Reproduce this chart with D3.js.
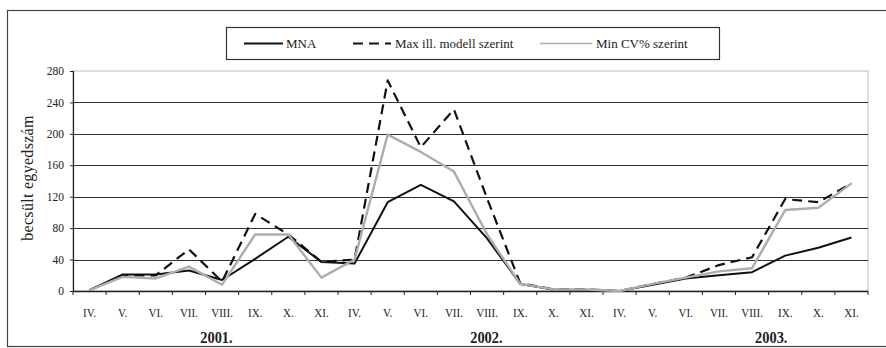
<!DOCTYPE html>
<html>
<head>
<meta charset="utf-8">
<script src="https://cdn.jsdelivr.net/npm/d3@7"></script>
<style>
  html, body { margin: 0; padding: 0; background: #fff; }
  svg { display: block; }
  svg text { font-family: "Liberation Serif", "Times New Roman", serif; fill: #222; }
</style>
</head>
<body>
<svg id="chart" width="886" height="348" font-family="Liberation Serif, serif"></svg>
<script>
// ---- data ----
const months = ["IV.", "V.", "VI.", "VII.", "VIII.", "IX.", "X.", "XI."];
const years = ["2001.", "2002.", "2003."];
const categories = years.flatMap(y => months.map(m => m));
// year label positions, in category units from the start of the axis
const yearPos = [4.33, 12.48, 21.08];

const seriesNames = ["MNA", "Max ill. modell szerint", "Min CV% szerint"];
const mna   = [1, 21, 21, 26, 14, 41, 69, 37, 35, 113, 135, 114, 67, 9, 2, 1, 0, 8, 16, 20, 24, 45, 55, 68];
const maxIll = [1, 20, 20, 53, 12, 98, 72, 37, 40, 268, 183, 231, 118, 10, 2, 2, 0, 9, 17, 33, 43, 117, 113, 137];
const minCV = [1, 18, 16, 31, 8, 72, 72, 17, 40, 199, 177, 152, 72, 9, 2, 2, 0, 9, 17, 25, 29, 103, 106, 137];
const yTicks = [0, 40, 80, 120, 160, 200, 240, 280];
const yTitle = "becsült egyedszám";

// ---- layout ----
const svg = d3.select("#chart");
const plot = { left: 73, right: 868, top: 71, bottom: 291 };

const x = d3.scaleBand().domain(d3.range(categories.length)).range([plot.left, plot.right]).padding(0);
const y = d3.scaleLinear().domain([0, 280]).range([plot.bottom, plot.top]);
const cx = i => x(i) + x.bandwidth() / 2;

// outer frame
svg.append("rect").attr("x", 7.5).attr("y", 10.5).attr("width", 890).attr("height", 336)
  .attr("fill", "none").attr("stroke", "#444").attr("stroke-width", 1.2);

// plot border (light)
svg.append("rect").attr("x", plot.left).attr("y", plot.top)
  .attr("width", plot.right - plot.left).attr("height", plot.bottom - plot.top)
  .attr("fill", "none").attr("stroke", "#bbb").attr("stroke-width", 1);

// gridlines
svg.append("g").selectAll("line").data(yTicks.filter(t => t > 0 && t < 280)).join("line")
  .attr("x1", plot.left).attr("x2", plot.right)
  .attr("y1", d => Math.round(y(d)) + 0.5).attr("y2", d => Math.round(y(d)) + 0.5)
  .attr("stroke", "#333").attr("stroke-width", 1.2);

// y axis
const yAxis = d3.axisLeft(y).tickValues(yTicks).tickSize(3).tickPadding(6);
const gy = svg.append("g").attr("transform", `translate(${plot.left},0)`).call(yAxis)
  .attr("font-family", "Liberation Serif, serif");
gy.select(".domain").attr("stroke", "#222").attr("stroke-width", 1.2);
gy.selectAll(".tick line").attr("stroke", "#222");
gy.selectAll(".tick text").attr("font-size", 11.5).attr("fill", "#222");

// x axis: ticks at category boundaries
const gx = svg.append("g").attr("transform", `translate(0,${plot.bottom})`);
gx.append("line").attr("x1", plot.left).attr("x2", plot.right).attr("y1", 0.5).attr("y2", 0.5)
  .attr("stroke", "#222").attr("stroke-width", 1.4);
gx.selectAll("line.tk").data(d3.range(categories.length + 1)).join("line").attr("class", "tk")
  .attr("x1", i => (i < categories.length ? x(i) : plot.right)).attr("x2", i => (i < categories.length ? x(i) : plot.right))
  .attr("y1", 0).attr("y2", 4).attr("stroke", "#222").attr("stroke-width", 1);
gx.selectAll("text.cat").data(categories).join("text").attr("class", "cat")
  .attr("transform", (d, i) => `translate(${cx(i)},26) scale(0.85,1)`)
  .attr("text-anchor", "middle").attr("font-size", 13).text(d => d);

// year labels
svg.append("g").selectAll("text").data(years).join("text")
  .attr("transform", (d, i) => `translate(${plot.left + yearPos[i] * x.bandwidth()},343) scale(0.9,1)`)
  .attr("text-anchor", "middle").attr("font-size", 16).attr("font-weight", "bold").text(d => d);

// y title
svg.append("text").attr("transform", `translate(33,${(plot.top + plot.bottom) / 2 - 3}) rotate(-90)`)
  .attr("text-anchor", "middle").attr("font-size", 16).attr("letter-spacing", 0.3).text(yTitle);

// lines
const line = d3.line().x((d, i) => cx(i)).y(d => y(d));
const styles = [
  { data: mna, stroke: "#111", width: 2, dash: null },
  { data: maxIll, stroke: "#111", width: 2.2, dash: "10,6" },
  { data: minCV, stroke: "#adadad", width: 2.4, dash: null }
];
svg.append("g").selectAll("path").data(styles).join("path")
  .attr("d", s => line(s.data)).attr("fill", "none")
  .attr("stroke", s => s.stroke).attr("stroke-width", s => s.width)
  .attr("stroke-dasharray", s => s.dash).attr("stroke-linejoin", "round");

// legend
const lg = svg.append("g");
lg.append("rect").attr("x", 226.5).attr("y", 27.5).attr("width", 493).attr("height", 32)
  .attr("fill", "#fff").attr("stroke", "#333").attr("stroke-width", 1.2);
const legendItems = [
  { x0: 244, x1: 283, tx: 286, s: styles[0] },
  { x0: 353, x1: 391, tx: 395, s: styles[1] },
  { x0: 540, x1: 592, tx: 596, s: styles[2] }
];
legendItems.forEach((it, i) => {
  lg.append("line").attr("x1", it.x0).attr("x2", it.x1).attr("y1", 43.5).attr("y2", 43.5)
    .attr("stroke", it.s.stroke).attr("stroke-width", i === 2 ? 1.6 : it.s.width).attr("stroke-dasharray", it.s.dash);
  lg.append("text").attr("x", it.tx).attr("y", 47.5).attr("font-size", 13).text(seriesNames[i]);
});
</script>
</body>
</html>
